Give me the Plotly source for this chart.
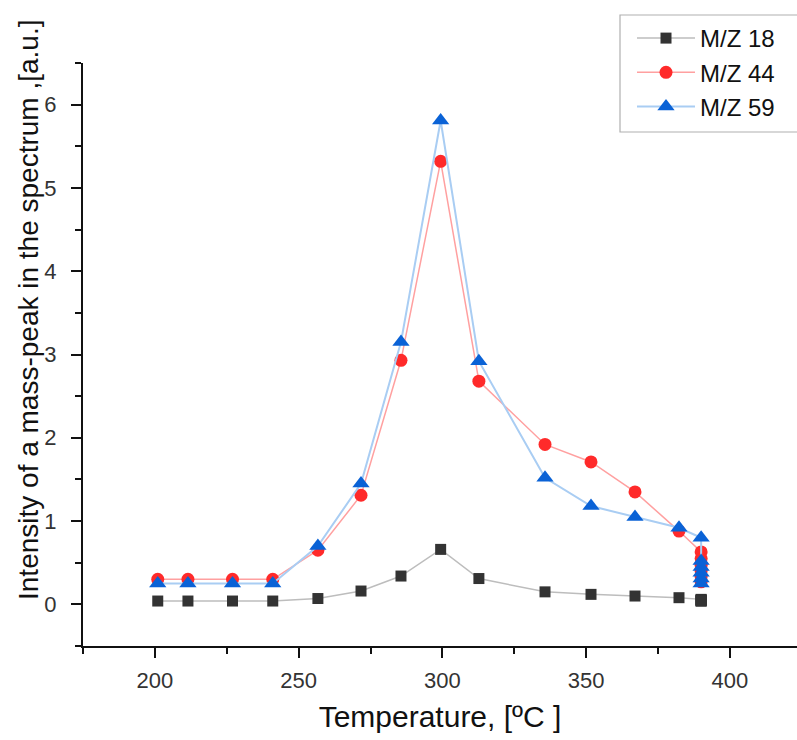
import plotly.graph_objects as go

# Temperatures (°C) for each measured point
temp = [201, 211.5, 227, 241, 256.7, 271.7, 285.6, 299.4, 312.7, 335.7, 351.7, 367, 382.3,
        390, 390, 390, 390, 390, 390]

mz18 = [0.04, 0.04, 0.04, 0.04, 0.07, 0.16, 0.34, 0.66, 0.31, 0.15, 0.12, 0.10, 0.08,
        0.06, 0.05, 0.05, 0.05, 0.04, 0.04]
mz44 = [0.30, 0.30, 0.30, 0.30, 0.65, 1.31, 2.93, 5.32, 2.68, 1.92, 1.71, 1.35, 0.88,
        0.63, 0.55, 0.47, 0.40, 0.33, 0.27]
mz59 = [0.25, 0.25, 0.25, 0.25, 0.70, 1.45, 3.15, 5.81, 2.92, 1.52, 1.18, 1.05, 0.92,
        0.80, 0.52, 0.45, 0.38, 0.31, 0.25]

series_names = ["M/Z 18", "M/Z 44", "M/Z 59"]
x_ticks = [200, 250, 300, 350, 400]
y_ticks = [0, 1, 2, 3, 4, 5, 6]
x_title = "Temperature, [ºC ]"
y_title = "Intensity of a mass-peak in the spectrum ,[a.u.]"

FONT = "Arial, Liberation Sans, sans-serif"

fig = go.Figure()
fig.add_trace(go.Scatter(
    x=temp, y=mz18, name=series_names[0], mode="lines+markers",
    line=dict(color="#bdbdbd", width=1.5),
    marker=dict(symbol="square", size=11, color="#333333"),
))
fig.add_trace(go.Scatter(
    x=temp, y=mz44, name=series_names[1], mode="lines+markers",
    line=dict(color="#ffa0a0", width=1.5),
    marker=dict(symbol="circle", size=13, color="#ff2a2a"),
))
fig.add_trace(go.Scatter(
    x=temp, y=mz59, name=series_names[2], mode="lines+markers",
    line=dict(color="#a9cdf3", width=2),
    marker=dict(symbol="triangle-up", size=15, color="#0a62d6"),
))

W, H = 797, 740
L, R, T, B = 83, 0, 63, 94
pw, ph = W - L - R, H - T - B

def px_x(p):
    return (p - L) / pw

def px_y(p):
    return (H - B - p) / ph

fig.update_layout(
    width=W, height=H,
    margin=dict(l=L, r=R, t=T, b=B, autoexpand=False),
    paper_bgcolor="white", plot_bgcolor="white",
    font=dict(family=FONT, color="#222222"),
    showlegend=True,
    legend=dict(
        xref="container", yref="container",
        x=632 / W, y=1 - 16 / H, xanchor="left", yanchor="top",
        bgcolor="rgba(0,0,0,0)", borderwidth=0,
        font=dict(size=24, family=FONT, color="#111111"),
        tracegroupgap=0, itemwidth=58,
    ),
    shapes=[dict(
        type="rect", xref="paper", yref="paper",
        x0=px_x(620), x1=px_x(800), y0=px_y(132), y1=px_y(15),
        line=dict(color="#b0b0b0", width=1.2), fillcolor="rgba(0,0,0,0)",
        layer="below",
    )],
    annotations=[dict(
        text=y_title, textangle=-90, showarrow=False,
        xref="paper", yref="paper", x=px_x(28), y=px_y(310),
        xanchor="center", yanchor="middle",
        font=dict(size=28, family=FONT, color="#111111"),
    )],
)

fig.update_xaxes(
    range=[175, 175 + pw / 2.875],
    automargin=False,
    tickvals=x_ticks, ticktext=[str(v) for v in x_ticks],
    showline=True, linecolor="#111111", linewidth=2,
    ticks="outside", ticklen=10, tickwidth=2, tickcolor="#111111",
    minor=dict(dtick=25, tick0=175, ticks="outside", ticklen=6, tickwidth=2, tickcolor="#111111"),
    showgrid=False, zeroline=False,
    tickfont=dict(size=22, family=FONT, color="#333333"),
    ticklabelstandoff=4,
    title=dict(text=x_title, font=dict(size=30, family=FONT, color="#111111"), standoff=14),
)
fig.update_yaxes(
    range=[-0.5, 6.5],
    automargin=False,
    tickvals=y_ticks, ticktext=[str(v) for v in y_ticks],
    showline=True, linecolor="#111111", linewidth=2,
    ticks="outside", ticklen=10, tickwidth=2, tickcolor="#111111",
    minor=dict(dtick=0.5, tick0=-0.5, ticks="outside", ticklen=6, tickwidth=2, tickcolor="#111111"),
    showgrid=False, zeroline=False,
    tickfont=dict(size=22, family=FONT, color="#333333"),
    ticklabelstandoff=10,
)

fig.write_html("out.html", config={"displayModeBar": False},
               post_script="document.body.style.margin='0';")
